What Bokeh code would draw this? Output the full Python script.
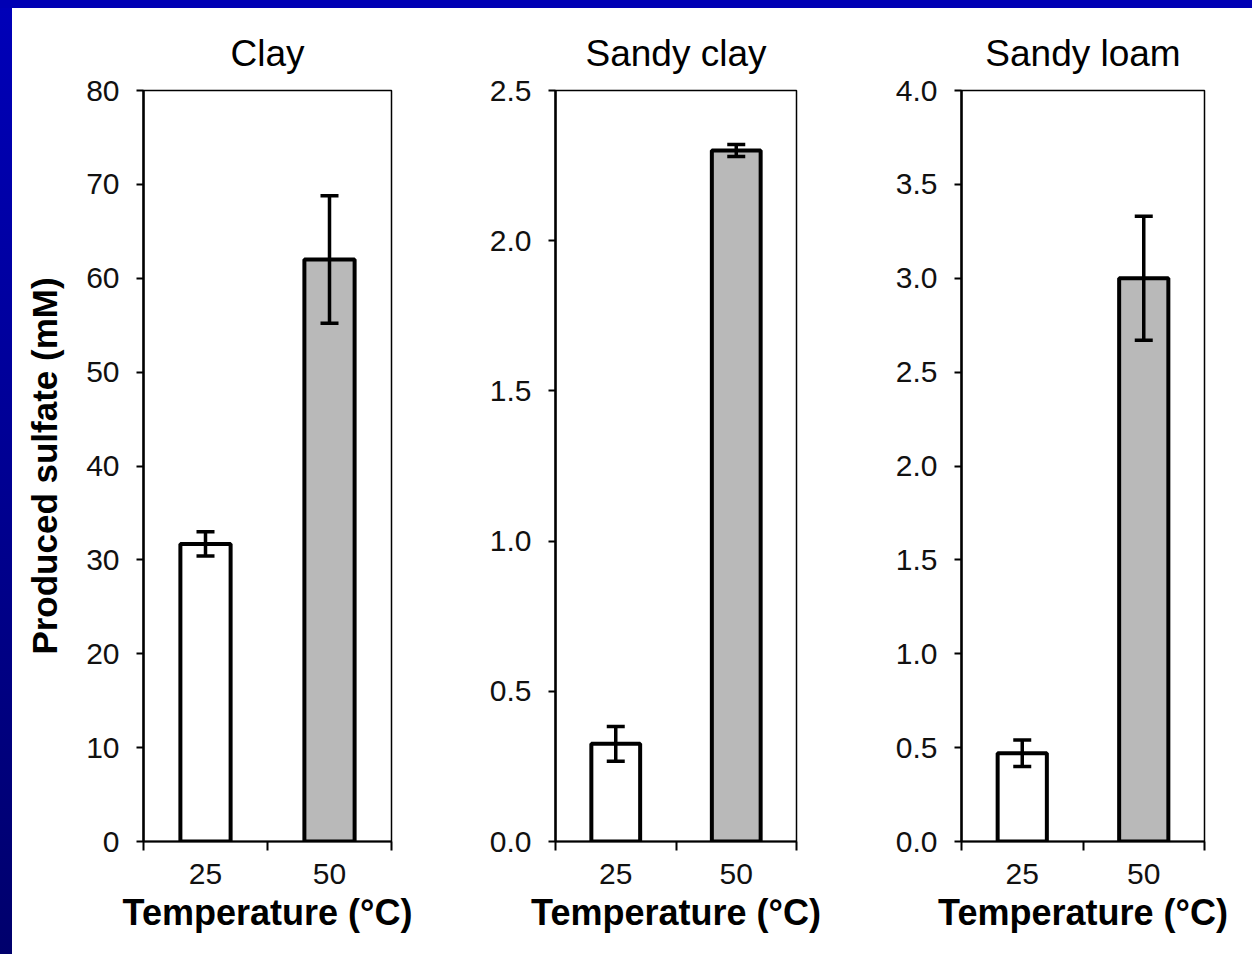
from bokeh.plotting import figure
from bokeh.models import (Range1d, FixedTicker, ColumnDataSource, Whisker, TeeHead,
                          NumeralTickFormatter, Div)
from bokeh.layouts import row, column
from bokeh.embed import file_html
from bokeh.resources import INLINE

# ---- data ----
temperatures = ["25", "50"]
soils = ["Clay", "Sandy clay", "Sandy loam"]
clay_mean = [31.7, 62.0]
clay_err = [1.3, 6.8]
sandy_clay_mean = [0.325, 2.30]
sandy_clay_err = [0.058, 0.02]
sandy_loam_mean = [0.47, 3.00]
sandy_loam_err = [0.07, 0.33]
clay_ticks = [0, 10, 20, 30, 40, 50, 60, 70, 80]
sandy_clay_ticks = [0.0, 0.5, 1.0, 1.5, 2.0, 2.5]
sandy_loam_ticks = [0.0, 0.5, 1.0, 1.5, 2.0, 2.5, 3.0, 3.5, 4.0]
tick_formats = ["0", "0.0", "0.0"]
bar_colors = ["#ffffff", "#b9b9b9"]

means = [clay_mean, sandy_clay_mean, sandy_loam_mean]
errs = [clay_err, sandy_clay_err, sandy_loam_err]
ticks = [clay_ticks, sandy_clay_ticks, sandy_loam_ticks]

# ---- layout geometry ----
W, H = 1252, 954
TOP_STRIP = 8
LEFT_STRIP = 12
FH = H - TOP_STRIP
widths = [428, 410, 402]
mb_left = [131, 115, 111]
mb_right = [49, 54, 48]
title_offsets = [-3, -1, -8]
FONT = "Liberation Sans"

figs = []
for k in range(3):
    n = len(temperatures)
    xs = [i + 0.5 for i in range(n)]
    p = figure(width=widths[k], height=FH, output_backend="svg", toolbar_location=None,
               x_range=Range1d(0, n), y_range=Range1d(ticks[k][0], ticks[k][-1]),
               min_border_left=mb_left[k], min_border_right=mb_right[k],
               min_border_top=82, min_border_bottom=113)
    p.background_fill_color = "white"
    p.border_fill_color = "white"
    p.outline_line_color = "black"
    p.outline_line_width = 1.5
    p.xgrid.visible = False
    p.ygrid.visible = False

    p.title.text = soils[k]
    p.title.align = "center"
    p.title.offset = title_offsets[k]
    p.title.text_font = FONT
    p.title.text_font_size = "37px"
    p.title.text_font_style = "normal"
    p.title.text_color = "black"
    p.title.standoff = 34

    src = ColumnDataSource(dict(
        x=xs, top=means[k], color=bar_colors,
        upper=[m + e for m, e in zip(means[k], errs[k])],
        lower=[m - e for m, e in zip(means[k], errs[k])],
    ))
    p.vbar(x="x", top="top", bottom=0, width=0.405, fill_color="color",
           line_color="black", line_width=4, source=src)
    w = Whisker(base="x", upper="upper", lower="lower", source=src,
                line_color="black", line_width=3.5,
                upper_head=TeeHead(size=18, line_width=3.5, line_color="black"),
                lower_head=TeeHead(size=18, line_width=3.5, line_color="black"))
    w.level = "overlay"
    p.add_layout(w)

    # y axis
    ya = p.yaxis[0]
    ya.ticker = FixedTicker(ticks=ticks[k])
    ya.formatter = NumeralTickFormatter(format=tick_formats[k])
    ya.axis_line_width = 2.5
    ya.axis_line_color = "black"
    ya.major_tick_line_width = 2
    ya.major_tick_line_color = "black"
    ya.major_tick_out = 7
    ya.major_tick_in = 0
    ya.minor_tick_line_color = None
    ya.major_label_text_font = FONT
    ya.major_label_text_font_size = "30px"
    ya.major_label_text_color = "#111111"
    ya.major_label_standoff = 17
    if k == 0:
        ya.axis_label = "Produced sulfate (mM)"
        ya.axis_label_text_font = FONT
        ya.axis_label_text_font_size = "35px"
        ya.axis_label_text_font_style = "bold"
        ya.axis_label_text_color = "black"
        ya.axis_label_standoff = 19

    # x axis: labels at category centres, ticks on category boundaries
    xa = p.xaxis[0]
    xa.ticker = FixedTicker(ticks=xs, minor_ticks=list(range(n + 1)))
    xa.major_label_overrides = {x: t for x, t in zip(xs, temperatures)}
    xa.axis_line_width = 2
    xa.axis_line_color = "black"
    xa.major_tick_line_color = None
    xa.major_tick_out = 0
    xa.major_tick_in = 0
    xa.minor_tick_line_color = "black"
    xa.minor_tick_line_width = 2
    xa.minor_tick_out = 9
    xa.minor_tick_in = 0
    xa.major_label_text_font = FONT
    xa.major_label_text_font_size = "30px"
    xa.major_label_text_color = "#111111"
    xa.major_label_standoff = 13
    xa.axis_label = "Temperature (\u00b0C)"
    xa.axis_label_text_font = FONT
    xa.axis_label_text_font_size = "36px"
    xa.axis_label_text_font_style = "bold"
    xa.axis_label_text_color = "black"
    xa.axis_label_standoff = 5
    figs.append(p)

top_strip = Div(text="", width=W, height=TOP_STRIP, margin=0,
                styles={"background": "#0000b4"})
left_strip = Div(text="", width=LEFT_STRIP, height=FH, margin=0,
                 styles={"background": "linear-gradient(#0000b8, #00006c)"})
layout = column(top_strip, row(left_strip, *figs, spacing=0), spacing=0)

open("out.html", "w").write(file_html(layout, INLINE))
